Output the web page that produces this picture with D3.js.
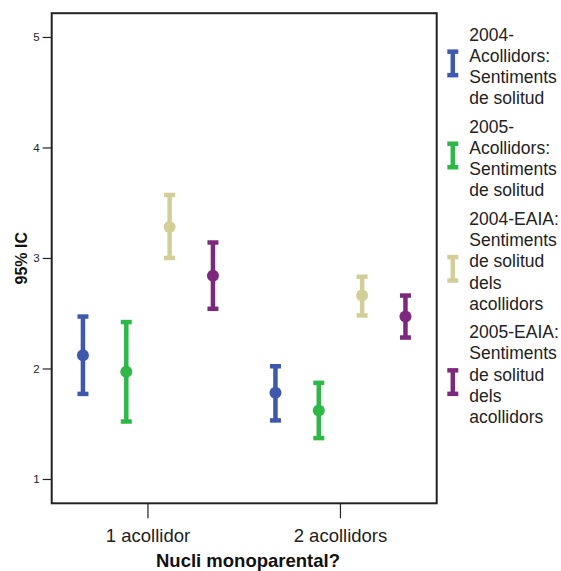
<!DOCTYPE html>
<html>
<head>
<meta charset="utf-8">
<script src="https://cdn.jsdelivr.net/npm/d3@7"></script>
<style>
  html, body { margin: 0; padding: 0; background: #fff; }
  svg { display: block; font-family: "Liberation Sans", Arial, Helvetica, sans-serif; }
</style>
</head>
<body>
<svg id="chart" width="561" height="571"></svg>
<script>
// ---- data ----
const categories = ["1 acollidor", "2 acollidors"];
const seriesNames = [
  "2004-Acollidors: Sentiments de solitud",
  "2005-Acollidors: Sentiments de solitud",
  "2004-EAIA: Sentiments de solitud dels acollidors",
  "2005-EAIA: Sentiments de solitud dels acollidors"
];
const legendLines = [
  ["2004-", "Acollidors:", "Sentiments", "de solitud"],
  ["2005-", "Acollidors:", "Sentiments", "de solitud"],
  ["2004-EAIA:", "Sentiments", "de solitud", "dels", "acollidors"],
  ["2005-EAIA:", "Sentiments", "de solitud", "dels", "acollidors"]
];
const seriesColors = ["#3E58AC", "#2EB848", "#D3CE97", "#7C287D"];
// per series, values for [1 acollidor, 2 acollidors]
const means = [
  [2.12, 1.78],
  [1.97, 1.62],
  [3.28, 2.66],
  [2.84, 2.47]
];
const lowers = [
  [1.77, 1.53],
  [1.52, 1.37],
  [3.00, 2.48],
  [2.54, 2.28]
];
const uppers = [
  [2.47, 2.02],
  [2.42, 1.87],
  [3.57, 2.83],
  [3.14, 2.66]
];
const yTicks = [1, 2, 3, 4, 5];
const yDomain = [0.78, 5.215];
const yTitle = "95% IC";
const xTitle = "Nucli monoparental?";

// ---- layout ----
const svg = d3.select("#chart");
const plot = { left: 51.7, right: 436.7, top: 13.2, bottom: 503.3 };

const x = d3.scaleBand().domain(categories).range([plot.left, plot.right]).padding(0);
const bw = x.bandwidth();
const xs = d3.scalePoint().domain(seriesNames).range([bw / 2 - 65, bw / 2 + 65]);
const y = d3.scaleLinear().domain(yDomain).range([plot.bottom, plot.top]);

// frame
svg.append("rect")
  .attr("x", plot.left).attr("y", plot.top)
  .attr("width", plot.right - plot.left).attr("height", plot.bottom - plot.top)
  .attr("fill", "none").attr("stroke", "#222").attr("stroke-width", 2);

// y axis
const yAxis = svg.append("g")
  .attr("transform", `translate(${plot.left},0)`)
  .call(d3.axisLeft(y).tickValues(yTicks).tickSize(9).tickPadding(3).tickFormat(d3.format("d")));
yAxis.select(".domain").remove();
yAxis.selectAll("line").attr("stroke", "#222").attr("stroke-width", 1.2);
yAxis.selectAll("text").attr("font-size", "11.5px").attr("fill", "#222")
  .attr("font-family", "Liberation Sans, Arial, sans-serif");

// x axis
const xAxis = svg.append("g")
  .attr("transform", `translate(0,${plot.bottom})`)
  .call(d3.axisBottom(x).tickSize(15).tickPadding(0));
xAxis.select(".domain").remove();
xAxis.selectAll("line").attr("stroke", "#222").attr("stroke-width", 1.2);
xAxis.selectAll("text").remove();
xAxis.selectAll(".tick").append("text")
  .attr("y", 541.7 - plot.bottom)
  .attr("text-anchor", "middle")
  .attr("font-size", "18.5px")
  .attr("fill", "#222")
  .attr("font-family", "Liberation Sans, Arial, sans-serif")
  .text(d => d);

// axis titles
svg.append("text")
  .attr("x", 248).attr("y", 566.5)
  .attr("text-anchor", "middle")
  .attr("font-size", "18.5px").attr("font-weight", "bold").attr("fill", "#111")
  .text(xTitle);

svg.append("text")
  .attr("transform", `translate(26.5,${(plot.top + plot.bottom) / 2}) rotate(-90)`)
  .attr("text-anchor", "middle")
  .attr("font-size", "16px").attr("font-weight", "bold").attr("fill", "#111")
  .text(yTitle);

// error bars
const capW = 11, lw = 4.5, dotR = 6;
const points = [];
seriesNames.forEach((s, si) => {
  categories.forEach((c, ci) => {
    points.push({ s, si, c, mean: means[si][ci], lo: lowers[si][ci], hi: uppers[si][ci] });
  });
});

const g = svg.append("g");
const bars = g.selectAll("g.bar").data(points).join("g")
  .attr("class", "bar")
  .attr("transform", d => `translate(${x(d.c) + xs(d.s)},0)`);

bars.append("line")
  .attr("x1", 0).attr("x2", 0)
  .attr("y1", d => y(d.hi)).attr("y2", d => y(d.lo))
  .attr("stroke", d => seriesColors[d.si]).attr("stroke-width", lw);
bars.append("line")
  .attr("x1", -capW / 2).attr("x2", capW / 2)
  .attr("y1", d => y(d.hi)).attr("y2", d => y(d.hi))
  .attr("stroke", d => seriesColors[d.si]).attr("stroke-width", lw);
bars.append("line")
  .attr("x1", -capW / 2).attr("x2", capW / 2)
  .attr("y1", d => y(d.lo)).attr("y2", d => y(d.lo))
  .attr("stroke", d => seriesColors[d.si]).attr("stroke-width", lw);
bars.append("circle")
  .attr("cx", 0).attr("cy", d => y(d.mean)).attr("r", dotR)
  .attr("fill", d => seriesColors[d.si]);

// legend
const lineH = 21.2, entryGap = 28.5;
const legX = 469.3, iconX = 452.8;
let base = 40.7;
const legend = svg.append("g");
legendLines.forEach((lines, i) => {
  const eg = legend.append("g");
  lines.forEach((t, li) => {
    eg.append("text")
      .attr("x", legX).attr("y", base + li * lineH)
      .attr("font-size", "17.5px").attr("fill", "#222")
      .text(t);
  });
  const cy = base + lineH * Math.floor((lines.length - 1) / 2) + 1.5;
  const h = 23.5;
  const col = seriesColors[i];
  eg.append("line").attr("x1", iconX).attr("x2", iconX)
    .attr("y1", cy - h / 2).attr("y2", cy + h / 2)
    .attr("stroke", col).attr("stroke-width", lw);
  [cy - h / 2, cy + h / 2].forEach(yy => {
    eg.append("line").attr("x1", iconX - capW / 2).attr("x2", iconX + capW / 2)
      .attr("y1", yy).attr("y2", yy)
      .attr("stroke", col).attr("stroke-width", lw);
  });
  base += (lines.length - 1) * lineH + entryGap;
});
</script>
</body>
</html>
